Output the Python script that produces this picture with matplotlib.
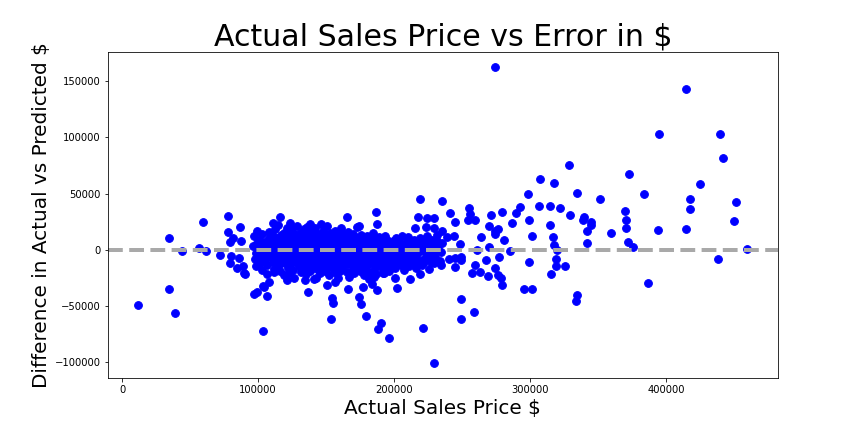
"""Actual sales price vs prediction error scatter."""

import matplotlib

matplotlib.use("Agg")
import matplotlib.pyplot as plt
import numpy as np

# values, in thousands of $
# sparse points around the edges of the cloud
edge_price_k = [
    414.9, 395.1, 439.9, 442.1, 373.0, 425.2, 384.0, 417.9, 417.2, 451.7, 450.2, 351.5,
    370.1, 370.8, 370.8, 359.8, 394.3, 414.9, 372.3, 376.0, 459.6, 438.5, 387.0,
    274.5, 328.9, 307.6, 317.9, 298.8, 334.8, 235.3, 255.4, 292.9, 306.8, 314.9, 322.3,
    241.4, 256.1, 271.5, 279.6, 289.9, 329.6, 339.9, 254.6, 259.8, 245.1, 299.5, 339.2,
    345.1, 345.1, 287.0, 270.1, 314.9, 276.7, 274.5, 274.5, 235.0, 342.1, 239.2, 244.3,
    264.2, 301.7, 317.1, 281.1, 248.7, 270.1, 317.9, 342.1, 261.3, 285.5, 319.9, 240.0,
    245.1, 249.5, 249.5, 277.4, 267.9, 299.5, 319.3, 245.1, 259.8, 319.3, 325.7, 257.6,
    263.5, 269.3, 274.5, 276.7, 278.9, 279.6, 315.7, 295.8, 301.7, 334.8, 334.0, 249.5,
    259.1, 249.5,
    219.4, 217.9, 224.5, 229.6, 187.0, 165.2, 123.8, 123.8, 138.5, 146.5, 173.0, 174.5,
    187.7, 215.0, 223.8, 229.6, 227.4, 219.4, 211.9, 202.4, 201.0, 187.3, 181.8, 184.0,
    174.5, 175.9, 179.6, 190.7, 188.5, 196.5, 221.5, 229.6, 166.4, 154.6, 155.4, 153.9,
    137.0, 121.5, 134.8, 142.8, 150.9, 156.8, 177.4, 185.5, 192.9,
    12.0, 34.8, 34.8, 39.2, 44.3, 59.8, 56.8, 62.0, 72.3, 77.5, 77.5, 87.0, 81.9, 79.6,
    87.7, 99.5, 111.3, 116.4, 80.4, 86.2, 79.6, 84.8, 89.2, 89.9, 90.7, 103.7, 104.4,
    108.3, 97.3, 99.5, 106.8, 103.9,
]
edge_error_k = [
    143.5, 103.3, 103.3, 81.9, 67.6, 58.6, 49.7, 45.3, 36.3, 42.6, 25.6, 45.3,
    34.5, 26.5, 19.4, 14.9, 17.6, 18.5, 6.9, 2.4, 0.6, -8.3, -29.7,
    163.1, 75.6, 63.1, 59.5, 49.7, 50.6, 43.5, 37.2, 38.1, 39.0, 39.0, 37.2,
    32.8, 31.9, 31.0, 33.7, 32.8, 31.0, 29.2, 26.5, 26.5, 24.7, 26.5, 26.5,
    24.7, 22.0, 23.8, 21.1, 22.0, 18.5, 16.7, 14.0, 16.7, 16.7, 11.3, 12.2,
    11.3, 12.2, 11.3, 8.7, 5.1, 2.4, 4.2, 6.0, -0.3, -1.2, -0.3, -8.3,
    -7.4, -6.5, -9.2, -6.5, -9.2, -11.0, -8.3, -15.4, -13.7, -14.6, -14.6, -20.8,
    -19.9, -23.5, -16.4, -22.6, -25.3, -31.5, -21.7, -35.1, -35.1, -40.4, -45.8, -44.0,
    -55.6, -61.9,
    45.3, 29.2, 28.3, 28.3, 33.7, 29.2, 23.8, 20.3, 22.9, 22.9, 20.3, 21.1,
    22.9, 19.4, 20.3, 19.4, -11.0, -21.7, -26.2, -34.2, -25.3, -35.7, -26.2, -30.6,
    -42.2, -48.5, -59.2, -65.4, -70.8, -78.8, -69.9, -101.2, -35.1, -43.1, -47.6, -61.9,
    -37.8, -27.1, -27.1, -25.3, -31.5, -28.8, -33.3, -24.4, -20.8,
    -49.4, 10.4, -35.1, -56.5, -1.2, 24.7, 1.5, -1.2, -4.7, 30.1, 15.8, 20.3, 10.4, 6.9,
    7.8, 16.7, 23.8, 29.2, -5.6, -7.4, -11.9, -16.4, -14.6, -20.8, -21.7, -32.4, -33.3,
    -28.8, -39.6, -37.8, -41.4, -72.6,
]

# dense core of the cloud (price k$, error k$), estimated
core_pts = [
    (96.3, 3), (97.4, -8), (96.9, 12),
    (98.6, -3), (99.2, 6), (98.1, -15),
    (100.4, 1), (101.5, -6), (100.9, 9), (101.1, -12),
    (102.2, -2), (103.6, 4), (102.8, -18), (103.1, 14),
    (104.5, 7), (105.3, -9), (104.1, 0), (105.8, -4),
    (106.2, -1), (107.7, 10), (106.9, -14), (107.3, 3), (106.5, -22),
    (108.8, 5), (109.4, -7), (108.3, 16), (109.9, -2),
    (110.6, 0), (111.2, -11), (110.1, 8), (111.7, -17), (110.9, 12), (111.5, 2),
    (112.3, -5), (113.8, 3), (112.7, 18), (113.1, -9), (112.0, -20), (113.5, 6),
    (114.9, 1), (115.4, -14), (114.2, 10), (115.8, -3), (114.6, 22), (115.1, -7),
    (116.5, -1), (117.3, 7), (116.1, -19), (117.9, 4), (116.8, 13), (117.6, -10),
    (118.2, 2), (119.5, -6), (118.7, 15), (119.1, -23), (118.4, 9), (119.8, -12), (118.9, -2),
    (120.6, -4), (121.3, 11), (120.2, 0), (121.8, -16), (120.9, 5), (121.5, 19), (120.4, -9),
    (122.7, 3), (123.4, -13), (122.1, 8), (123.9, -1), (122.5, -21), (123.2, 14), (122.9, -6),
    (124.3, -8), (125.6, 1), (124.8, 17), (125.1, -3), (124.5, 6), (125.9, -18), (124.1, 10),
    (126.4, 4), (127.2, -11), (126.8, -2), (127.7, 13), (126.1, -25), (127.5, 7), (126.6, 0),
    (128.9, -6), (129.3, 9), (128.2, 2), (129.8, -15), (128.6, 21), (129.1, -4), (128.4, 12),
    (130.5, 0), (131.7, -9), (130.1, 6), (131.2, -20), (130.8, 15), (131.9, -3), (130.3, 3),
    (131.4, -13),
    (132.6, 5), (133.2, -1), (132.1, -17), (133.8, 10), (132.9, -7), (133.5, 18), (132.4, -11),
    (134.7, -3), (135.1, 8), (134.3, -12), (135.6, 1), (134.9, 14), (135.4, -22), (134.1, -6),
    (135.8, 4),
    (136.2, 2), (137.5, -8), (136.8, 11), (137.1, -4), (136.5, -16), (137.9, 7), (136.3, 20),
    (138.4, -1), (139.6, 5), (138.9, -10), (139.2, 16), (138.1, -19), (139.8, 0), (138.6, 9),
    (139.4, -5),
    (140.8, 3), (141.3, -14), (140.2, 7), (141.7, -2), (140.5, 12), (141.1, -26), (140.9, -8),
    (142.5, -5), (143.4, 1), (142.1, 19), (143.8, -11), (142.7, 6), (143.2, -17), (142.3, 10),
    (143.6, -2),
    (144.6, 4), (145.2, -7), (144.1, 14), (145.7, -21), (144.9, 0), (145.5, 8), (144.4, -13),
    (146.3, -2), (147.6, 11), (146.9, -9), (147.2, 3), (146.6, -15), (147.9, 17), (146.1, -4),
    (147.4, 6),
    (148.7, 1), (149.3, -12), (148.2, 8), (149.8, -6), (148.5, 13), (149.1, -19), (148.9, -1),
    (150.4, -3), (151.7, 5), (150.8, -16), (151.2, 10), (150.1, 0), (151.5, -9), (150.6, 21),
    (151.9, -23),
    (152.3, 2), (153.6, -8), (152.8, 15), (153.1, -4), (152.5, 7), (153.9, -13), (152.1, -1),
    (154.7, -6), (155.2, 9), (154.4, -2), (155.8, -18), (154.1, 4), (155.5, 12), (154.9, -10),
    (156.2, 0), (157.4, -14), (156.8, 6), (157.9, -5), (156.5, 17), (157.1, -21), (156.3, 3),
    (158.6, -3), (159.3, 8), (158.1, -9), (159.7, 13), (158.9, -16), (159.1, 1), (158.4, -25),
    (160.5, 4), (161.6, -7), (160.2, -1), (161.9, 10), (160.8, -12), (161.3, 19), (160.4, -19),
    (162.7, -2), (163.2, 6), (162.3, -15), (163.8, 2), (162.9, -8), (163.5, 14), (162.1, -4),
    (164.4, 1), (165.7, -11), (164.9, 8), (165.1, -20), (164.2, 4), (165.5, -5), (164.6, 12),
    (166.8, -4), (167.3, 3), (166.2, -13), (167.7, 9), (166.5, -24), (167.9, 0), (166.1, 16),
    (168.5, 2), (169.4, -8), (168.1, 11), (169.8, -17), (168.8, 5), (169.2, -2),
    (170.3, -1), (171.6, -12), (170.9, 7), (171.2, 3), (170.6, -21), (171.9, -6), (170.1, 14),
    (172.7, 4), (173.3, -9), (172.2, -3), (173.8, 10), (172.5, -15), (173.1, 1),
    (174.4, -5), (175.6, 8), (174.9, -19), (175.2, 2), (174.1, -11), (175.8, 13),
    (176.6, 0), (177.2, -7), (176.3, 6), (177.8, -14), (176.9, 11), (177.5, -23),
    (178.2, -3), (179.4, 4), (178.7, -10), (179.9, 9), (178.5, -17), (179.1, 1),
    (180.8, 2), (181.3, -6), (180.4, 12), (181.7, -13), (180.1, -1), (181.5, 7),
    (182.6, -4), (183.1, 5), (182.2, -20), (183.7, 10), (182.9, -9),
    (184.3, 1), (185.6, -12), (184.8, 6), (185.2, -3), (184.5, 15), (185.9, -16),
    (186.7, -7), (187.4, 3), (186.1, -1), (187.9, 9), (186.4, -22),
    (188.2, 4), (189.5, -10), (188.8, 11), (189.1, -5), (188.5, -14),
    (190.6, 0), (191.3, -8), (190.1, 7), (191.8, -18), (190.9, 2),
    (192.4, -3), (193.7, 5), (192.8, -12), (193.2, 12), (192.1, -21),
    (194.5, 1), (195.2, -6), (194.9, 9), (195.8, -15), (194.3, -2),
    (196.7, -4), (197.3, 6), (196.2, -10), (197.9, 3), (196.5, -19),
    (198.4, 2), (199.6, -13), (198.9, 8), (199.2, -7),
    (200.3, -1), (201.5, 4), (200.8, -16), (201.1, 10), (200.5, -9),
    (202.6, 3), (203.4, -11), (202.2, 7), (203.8, -5),
    (204.7, -2), (205.2, -14), (204.3, 6), (205.7, 12), (204.9, -8),
    (206.5, 1), (207.6, -10), (206.1, 4), (207.2, -18),
    (208.8, -5), (209.3, 8), (208.4, -12), (209.7, 2),
    (210.2, 0), (211.5, -9), (210.7, 5), (211.1, -15), (210.5, 11),
    (212.6, -3), (213.4, 7), (212.3, -11), (213.9, 3),
    (214.4, 2), (215.7, -13), (214.9, 9), (215.2, -7),
    (216.7, -4), (217.3, 5), (216.2, -16), (217.8, 1),
    (218.5, -1), (219.2, 10), (218.9, -10), (219.6, 6),
    (220.3, 3), (221.7, -8), (220.8, -14), (221.2, 8),
    (222.6, -2), (223.4, 4), (222.1, -11), (223.9, 12),
    (224.5, 1), (225.3, -6), (224.8, 7), (225.7, -17),
    (226.2, -3), (227.6, 9), (226.9, -9), (227.1, 3),
    (228.4, 2), (229.5, -12), (228.8, 5),
    (230.7, -1), (231.2, 8), (230.3, -7), (231.8, 13),
    (232.5, 4), (233.6, -10), (232.1, 1),
    (234.4, -2), (235.1, 6), (234.8, -14),
]

core_price_k = [p for p, _ in core_pts]
core_error_k = [e for _, e in core_pts]

price = np.array(edge_price_k + core_price_k) * 1000
error = np.array(edge_error_k + core_error_k) * 1000

fig = plt.figure(figsize=(12, 6), dpi=72)
fig.subplots_adjust(left=0.125, right=0.9, top=0.88, bottom=0.125)
plt.scatter(price, error, color="blue", s=60)
plt.axhline(0, color="darkgray", linestyle="--", linewidth=4)
plt.title("Actual Sales Price vs Error in $", fontsize=30)
plt.xlabel("Actual Sales Price $", fontsize=20)
plt.ylabel("Difference in Actual vs Predicted $", fontsize=20)

fig.savefig("out.png", dpi=72)
plt.close()
